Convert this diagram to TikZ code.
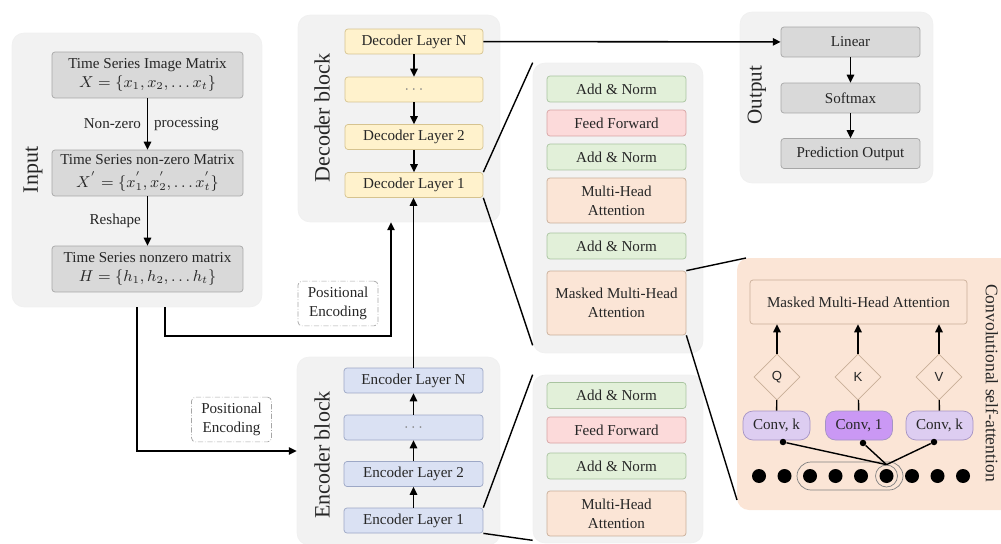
\documentclass[tikz,border=0pt]{standalone}
\usepackage{fontspec}
\setmainfont{Liberation Serif}
\newfontfamily\qkvfont{Liberation Sans}
\usetikzlibrary{arrows.meta, shapes.geometric}

\definecolor{panelgray}{HTML}{F2F2F2}
\definecolor{boxgray}{HTML}{D9D9D9}
\definecolor{boxline}{HTML}{A6A6A6}
\definecolor{decfill}{HTML}{FFF2CC}
\definecolor{decline}{HTML}{D6C38F}
\definecolor{encfill}{HTML}{DAE1F3}
\definecolor{encline}{HTML}{9DA8C6}
\definecolor{anfill}{HTML}{E2F0D9}
\definecolor{anline}{HTML}{A9C4A0}
\definecolor{fffill}{HTML}{FCDADA}
\definecolor{ffline}{HTML}{D8A4A4}
\definecolor{atfill}{HTML}{FBE5D6}
\definecolor{atline}{HTML}{C9AE98}
\definecolor{convk}{HTML}{DDCDF1}
\definecolor{convone}{HTML}{CA98F4}
\definecolor{convline}{HTML}{A593C4}

\begin{document}
\begin{tikzpicture}[x=0.02cm, y=-0.02cm,
  font=\fontsize{8.6}{11}\selectfont, text=black!85,
  panel/.style={rounded corners=0.24cm, fill=panelgray, draw=black!6, inner sep=0},
  box/.style={rounded corners=0.06cm, align=center, inner sep=1pt},
  inbox/.style={box, fill=boxgray, draw=boxline, minimum width=3.82cm, minimum height=0.92cm},
  decbox/.style={box, fill=decfill, draw=decline, minimum width=2.76cm, minimum height=0.5cm},
  encbox/.style={box, fill=encfill, draw=encline, minimum width=2.78cm, minimum height=0.5cm},
  subbox/.style={box, minimum width=2.78cm, minimum height=0.52cm},
  addnorm/.style={subbox, fill=anfill, draw=anline},
  feedfwd/.style={subbox, fill=fffill, draw=ffline},
  attn/.style={subbox, fill=atfill, draw=atline, minimum height=0.9cm},
  outbox/.style={box, fill=boxgray, draw=boxline, minimum width=2.78cm, minimum height=0.6cm},
  blocklabel/.style={font=\fontsize{12.5}{14}\selectfont, rotate=90},
  posenc/.style={draw=black!35, densely dashdotted, rounded corners=0.08cm, align=center,
    minimum width=1.6cm, minimum height=0.86cm},
  arr/.style={-{Triangle[length=4.5pt,width=4.2pt]}, line width=0.9pt},
  link/.style={line width=0.8pt},
  qkv/.style={diamond, aspect=1, draw=atline, fill=atfill, minimum size=0.92cm, inner sep=0,
    font=\qkvfont\fontsize{7.5}{9}\selectfont},
  convbox/.style={rounded corners=0.2cm, draw=convline, fill=convk, minimum width=1.34cm,
    minimum height=0.58cm, inner sep=1pt},
  tokdot/.style={circle, fill=black, inner sep=0, minimum size=0.28cm},
  tap/.style={circle, fill=black, inner sep=0, minimum size=0.13cm}]
  \useasboundingbox (0,0) rectangle (1001,544);

  % panels
  \node[panel, minimum width=5cm, minimum height=5.48cm] (inp) at (137,170) {};
  \node[panel, minimum width=4.04cm, minimum height=4.14cm] (decp) at (399,118.5) {};
  \node[panel, minimum width=4.06cm, minimum height=3.76cm] (encp) at (398.5,451) {};
  \node[panel, minimum width=3.4cm, minimum height=5.8cm] (ddet) at (618,208) {};
  \node[panel, minimum width=3.4cm, minimum height=3.36cm] (edet) at (618,459) {};
  \node[panel, minimum width=3.86cm, minimum height=3.42cm] (outp) at (836.5,97.5) {};
  \begin{scope}
    \clip (0,0) rectangle (1001,544);
    \fill[atfill, rounded corners=0.24cm] (737,258) rectangle (1040,510);
  \end{scope}
  \coordinate (cp-nw) at (746,258);
  \coordinate (cp-sw) at (737,500);

  \node[blocklabel] at (33,170) {Input};
  \node[blocklabel] at (322,118) {Decoder block};
  \node[blocklabel] at (322,455) {Encoder block};
  \node[blocklabel, font=\fontsize{12}{14}\selectfont] at (757,95) {Output};
  \node[rotate=-90, font=\fontsize{10}{12}\selectfont] at (992,383) {Convolutional self-attention};

  % input
  \node[inbox] (in1) at (147.5,75) {Time Series Image Matrix\\ $X=\{x_1,x_2,\ldots x_t\}$};
  \node[inbox] (in2) at (147.5,173) {Time Series non-zero Matrix\\[2.5pt] $X^{'}=\{x_1^{'},x_2^{'},\ldots x_t^{'}\}$};
  \node[inbox] (in3) at (147.5,269) {Time Series nonzero matrix\\ $H=\{h_1,h_2,\ldots h_t\}$};
  \draw[arr] (in1) -- node[left]{Non-zero} node[right]{processing} (in2);
  \draw[arr] (in2) -- node[left]{Reshape} (in3);

  % decoder stack
  \node[decbox] (dN) at (414,41.5) {Decoder Layer N};
  \node[decbox, text=black!50] (ddots) at (414,89.5) {$\cdots$};
  \node[decbox] (d2) at (414,137) {Decoder Layer 2};
  \node[decbox] (d1) at (414,185) {Decoder Layer 1};
  \draw[arr] (dN) -- (ddots);
  \draw[arr] (ddots) -- (d2);
  \draw[arr] (d2) -- (d1);

  % encoder stack
  \node[encbox] (eN) at (413.5,380.5) {Encoder Layer N};
  \node[encbox, text=black!50] (edots) at (413.5,427.5) {$\cdots$};
  \node[encbox] (e2) at (413.5,474) {Encoder Layer 2};
  \node[encbox] (e1) at (413.5,520.5) {Encoder Layer 1};
  \draw[arr] (e1) -- (e2);
  \draw[arr] (e2) -- (edots);
  \draw[arr] (edots) -- (eN);
  \draw[arr] (eN) -- (eN |- d1.south);

  % positional encoding
  \node[posenc] (pe1) at (338,303.5) {Positional\\ Encoding};
  \node[posenc] (pe2) at (231.5,419.5) {Positional\\ Encoding};
  \coordinate (bend) at (391,336);
  \draw[arr] ([xshift=0.56cm]inp.south) |- (bend) -- (bend |- decp.south);
  \draw[arr] (inp.south) |- (encp.west);

  % output
  \node[outbox] (lin) at (850.5,42) {Linear};
  \node[outbox] (soft) at (850.5,98) {Softmax};
  \node[outbox] (pred) at (850.5,153.5) {Prediction Output};
  \draw[arr] (dN) -- (lin);
  \draw[arr] (lin) -- (soft);
  \draw[arr] (soft) -- (pred);

  % decoder layer detail
  \node[addnorm] (dan3) at (616.5,89) {Add \& Norm};
  \node[feedfwd] (dff) at (616.5,123) {Feed Forward};
  \node[addnorm] (dan2) at (616.5,157) {Add \& Norm};
  \node[attn] (dmha) at (616.5,200.5) {Multi-Head\\ Attention};
  \node[addnorm] (dan1) at (616.5,246) {Add \& Norm};
  \node[attn, minimum height=1.28cm] (dmmha) at (616.5,303) {Masked Multi-Head\\ Attention};
  \draw[link] (d1.north east) -- (ddet.north west);
  \draw[link] (d1.south east) -- ([yshift=0.16cm]ddet.south west);

  % encoder layer detail
  \node[addnorm] (ean2) at (616.5,395.5) {Add \& Norm};
  \node[feedfwd] (eff) at (616.5,430) {Feed Forward};
  \node[addnorm] (ean1) at (616.5,466) {Add \& Norm};
  \node[attn] (emha) at (616.5,513.5) {Multi-Head\\ Attention};
  \draw[link] (e1.north east) -- (edet.north west);
  \draw[link] (e1.south east) -- ([yshift=0.06cm]edet.south west);

  % convolutional self-attention
  \draw[link] (dmmha.north east) -- (cp-nw);
  \draw[link] (dmmha.south east) -- (cp-sw);
  \node[box, draw=atline, fill=atfill, minimum width=4.34cm, minimum height=0.88cm] (imha) at (858.5,302) {Masked Multi-Head Attention};
  \node[qkv] (q) at (777,377) {Q};
  \node[qkv] (k) at (858,377) {K};
  \node[qkv] (v) at (939,377) {V};
  \node[convbox] (cq) at (776.5,425.5) {Conv, k};
  \node[convbox, fill=convone] (ck) at (859,425.5) {Conv, 1};
  \node[convbox] (cv) at (939.5,425.5) {Conv, k};
  \foreach \n in {q,k,v} {
    \draw[arr] (\n) -- (\n |- imha.south);
  }
  \draw[link] (cq) -- (q);
  \draw[link] (ck) -- (k);
  \draw[link] (cv) -- (v);
  \node[draw=black!50, rounded corners=0.28cm, minimum width=2.12cm, minimum height=0.56cm] (win) at (850,476) {};
  \foreach \i in {0,...,8}
    \node[tokdot] (t\i) at ({759+25.5*\i},476) {};
  \node[circle, draw=black!50, minimum size=0.44cm, inner sep=0] (ring) at (t5) {};
  \node[tap] (tq) at (783,442) {};
  \node[tap] (tk) at (863,443) {};
  \node[tap] (tv) at (934,442) {};
  \draw[link] (tq) -- (ring.north);
  \draw[link] (tk) -- (ring.north);
  \draw[link] (tv) -- (ring.north);
\end{tikzpicture}
\end{document}
